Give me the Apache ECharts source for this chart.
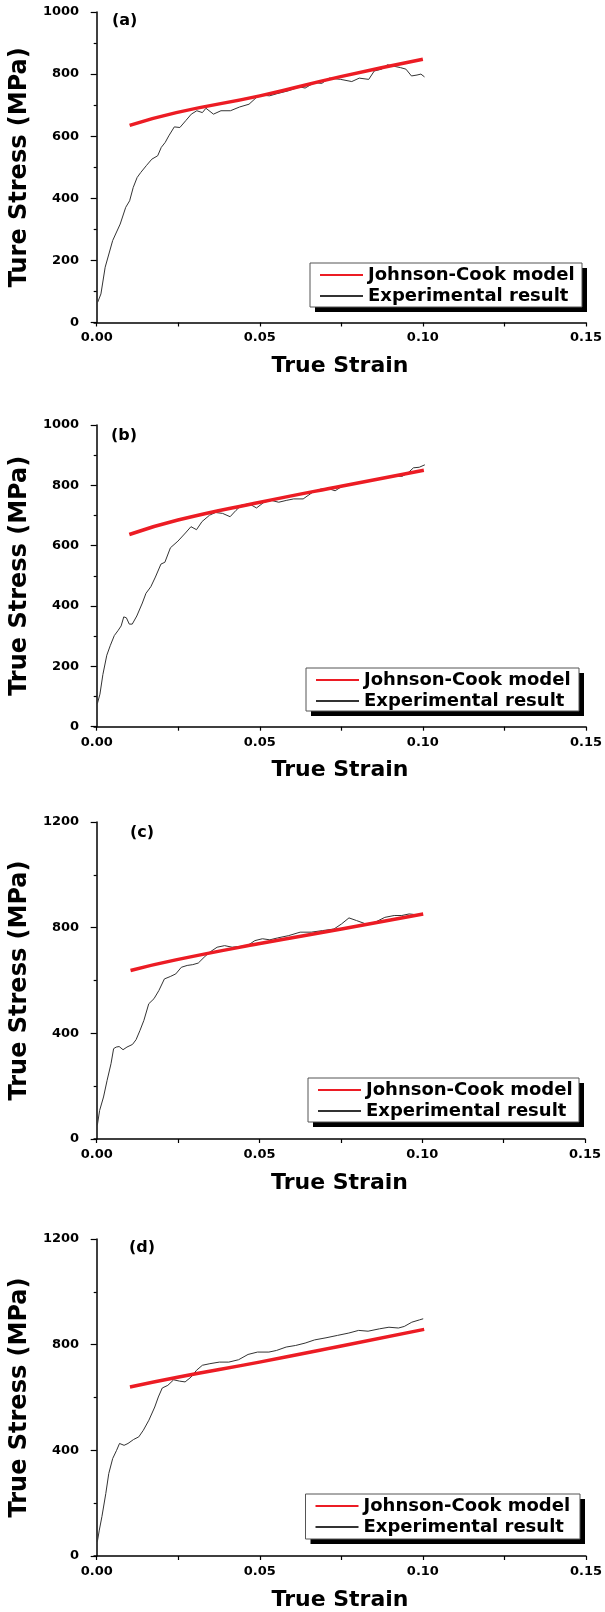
<!DOCTYPE html>
<html>
<head>
<meta charset="utf-8">
<script src="https://cdn.jsdelivr.net/npm/echarts@6/dist/echarts.min.js"></script>
<style>
html,body{margin:0;padding:0;background:#fff;}
#chart{width:605px;height:1612px;}
</style>
</head>
<body>
<div id="chart"></div>
<script>
// ---------- DATA ----------
const panelLabels = ['(a)', '(b)', '(c)', '(d)'];
const yNames = ['Ture Stress (MPa)', 'True Stress (MPa)', 'True Stress (MPa)', 'True Stress (MPa)'];
const xName = 'True Strain';
const seriesNames = ['Johnson-Cook model', 'Experimental result'];
const xTickValues = [0, 0.025, 0.05, 0.075, 0.1, 0.125, 0.15];
const xLabelValues = [0, 0.05, 0.1, 0.15];
const yMax = [1000, 1000, 1200, 1200];
const yInterval = [200, 200, 400, 400];

// Johnson-Cook model curves
const jcA_strain = [0.0101, 0.0244, 0.050, 0.0748, 0.100];
const jcA_stress = [635, 676, 730, 792, 848];
const jcB_strain = [0.0100, 0.0249, 0.0501, 0.0753, 0.1003];
const jcB_stress = [637, 685, 744, 798, 850];
const jcC_strain = [0.0104, 0.0243, 0.0497, 0.0752, 0.1003];
const jcC_stress = [638, 678, 739, 795, 852];
const jcD_strain = [0.0102, 0.0248, 0.0499, 0.0750, 0.1004];
const jcD_stress = [640, 677, 734, 795, 858];

// Experimental results
const expA_strain = [0.0003,0.0013,0.0026,0.0049,0.0072,0.0089,0.0101,0.0112,0.0124,0.0135,0.0152,0.0169,0.0187,0.0198,0.0210,0.0221,0.0238,0.0255,0.0273,0.0290,0.0307,0.0324,0.0335,0.0358,0.0381,0.0410,0.0438,0.0467,0.0490,0.0507,0.0530,0.0553,0.0587,0.0622,0.0639,0.0668,0.0690,0.0713,0.0748,0.0782,0.0805,0.0834,0.0851,0.0874,0.0891,0.0908,0.0931,0.0948,0.0965,0.0982,0.0994,0.1005];
const expA_stress = [65,92,178,264,317,371,392,435,467,483,505,526,537,564,580,601,630,628,650,671,682,676,690,671,682,682,694,703,725,732,730,737,746,759,755,773,770,787,783,776,787,783,810,816,830,826,821,816,794,797,800,791];

const expB_strain = [0.0002,0.0010,0.0019,0.0031,0.0042,0.0054,0.0065,0.0075,0.0083,0.0091,0.0100,0.0109,0.0123,0.0140,0.0151,0.0166,0.0180,0.0197,0.0209,0.0226,0.0249,0.0272,0.0289,0.0306,0.0323,0.0346,0.0364,0.0386,0.0409,0.0427,0.0444,0.0467,0.0490,0.0513,0.0536,0.0558,0.0581,0.0604,0.0633,0.0662,0.0685,0.0708,0.0731,0.0754,0.0788,0.0822,0.0857,0.0885,0.0914,0.0937,0.0954,0.0971,0.0989,0.1006];
const expB_stress = [76,108,173,237,270,302,318,334,364,361,340,340,367,410,442,464,496,539,545,593,615,642,663,653,680,701,710,707,696,717,734,739,725,744,750,744,750,755,755,777,787,790,782,798,807,811,818,825,830,830,841,858,860,868];

const expC_strain = [0.0002,0.0009,0.0021,0.0032,0.0044,0.0052,0.0060,0.0069,0.0081,0.0093,0.0110,0.0121,0.0133,0.0145,0.0160,0.0176,0.0191,0.0208,0.0226,0.0243,0.0260,0.0278,0.0295,0.0312,0.0330,0.0347,0.0370,0.0393,0.0416,0.0439,0.0463,0.0486,0.0509,0.0532,0.0555,0.0590,0.0625,0.0659,0.0694,0.0729,0.0752,0.0775,0.0798,0.0827,0.0856,0.0885,0.0914,0.0937,0.0960,0.0975];
const expC_stress = [52,108,159,222,285,342,348,350,338,348,358,376,411,449,512,531,562,606,615,625,650,657,660,666,688,707,726,732,726,729,732,751,758,754,761,770,783,783,789,795,814,837,827,814,821,839,846,846,852,850];

const expD_strain = [0.0002,0.0008,0.0016,0.0028,0.0037,0.0049,0.0061,0.0070,0.0084,0.0096,0.0113,0.0129,0.0143,0.0160,0.0178,0.0189,0.0201,0.0218,0.0236,0.0254,0.0271,0.0289,0.0306,0.0324,0.0347,0.0376,0.0405,0.0435,0.0464,0.0493,0.0528,0.0551,0.0581,0.0610,0.0639,0.0668,0.0703,0.0738,0.0773,0.0803,0.0832,0.0867,0.0896,0.0925,0.0943,0.0966,0.0990,0.1001];
const expD_stress = [54,98,149,237,312,369,400,426,419,426,441,451,476,514,564,602,636,646,667,662,659,677,703,722,728,734,734,743,763,772,772,778,791,797,806,818,826,835,844,854,851,860,866,863,869,885,894,898];

// ---------- LAYOUT ----------
const grids = [
  {left: 82, top: 12, width: 507, height: 310.5},
  {left: 79.5, top: 425, width: 506.5, height: 301.7},
  {left: 82.7, top: 822, width: 502.3, height: 317},
  {left: 89.3, top: 1239, width: 498, height: 317}
];
const legendBoxes = [
  {x: 310, y: 263, w: 272, h: 44},
  {x: 306, y: 668, w: 273, h: 43},
  {x: 308, y: 1078, w: 271, h: 44},
  {x: 305.5, y: 1494, w: 274.5, h: 45}
];
const labelPos = [
  {left: 112, top: 13},
  {left: 111, top: 428},
  {left: 130, top: 825},
  {left: 129, top: 1240}
];

const FONT = 'DejaVu Sans';
const RED = '#ec1c24';
const EXP = '#333333';

function zip(a, b) { return a.map((v, i) => [v, b[i]]); }
const jc = [zip(jcA_strain, jcA_stress), zip(jcB_strain, jcB_stress), zip(jcC_strain, jcC_stress), zip(jcD_strain, jcD_stress)];
const exp = [zip(expA_strain, expA_stress), zip(expB_strain, expB_stress), zip(expC_strain, expC_stress), zip(expD_strain, expD_stress)];

const graphics = [];
legendBoxes.forEach(b => {
  graphics.push({type: 'rect', z: 10, shape: {x: b.x + 5, y: b.y + 5, width: b.w, height: b.h},
    style: {fill: '#000'}});
  graphics.push({type: 'rect', z: 11, shape: {x: b.x, y: b.y, width: b.w, height: b.h},
    style: {fill: '#fff', stroke: '#555', lineWidth: 1}});
});

const option = {
  backgroundColor: '#fff',
  animation: false,
  graphic: graphics,
  title: panelLabels.map((t, i) => ({
    text: t, left: labelPos[i].left, top: labelPos[i].top, padding: 0,
    textStyle: {fontFamily: FONT, fontWeight: 'bold', fontSize: 16, color: '#000'}
  })),
  legend: legendBoxes.map(b => ({
    data: seriesNames,
    orient: 'vertical',
    left: b.x + 9, top: b.y + 2,
    padding: 0,
    itemGap: 1,
    itemWidth: 43, itemHeight: 14,
    z: 20,
    itemStyle: {opacity: 0, borderWidth: 0},
    textStyle: {fontFamily: FONT, fontWeight: 'bold', fontSize: 18, lineHeight: 20, color: '#000', padding: [0, 0, 0, 0]},
    selectedMode: false
  })),
  grid: grids.map(g => Object.assign({containLabel: false}, g)),
  xAxis: grids.map((g, i) => ({
    type: 'value', gridIndex: i, min: -0.0008, max: 0.15,
    name: xName, nameLocation: 'middle', nameGap: 33,
    nameTextStyle: {fontFamily: FONT, fontWeight: 'bold', fontSize: 22, color: '#000'},
    axisLine: {onZero: false, lineStyle: {color: '#000', width: 1.5}},
    axisTick: {show: true, inside: false, length: 4, customValues: xTickValues, lineStyle: {color: '#000', width: 1.2}},
    axisLabel: {customValues: xLabelValues, formatter: v => v.toFixed(2), margin: 9,
      fontFamily: FONT, fontWeight: 'bold', fontSize: 13, color: '#000'},
    splitLine: {show: false}
  })),
  yAxis: grids.map((g, i) => ({
    type: 'value', gridIndex: i, min: 0, max: yMax[i], interval: yInterval[i],
    name: yNames[i], nameLocation: 'middle', nameGap: 57, nameRotate: 90,
    nameTextStyle: {fontFamily: FONT, fontWeight: 'bold', fontSize: 24, color: '#000'},
    axisLine: {show: true, lineStyle: {color: '#000', width: 1.5}},
    axisTick: {show: true, inside: false, length: 6, lineStyle: {color: '#000', width: 1.2}},
    minorTick: {show: true, splitNumber: 2, length: 3, lineStyle: {color: '#000', width: 1.2}},
    axisLabel: {margin: 15, formatter: v => String(v), fontFamily: FONT, fontWeight: 'bold', fontSize: 13, color: '#000'},
    splitLine: {show: false}
  })),
  series: []
};

for (let i = 0; i < 4; i++) {
  option.series.push({
    name: seriesNames[0], type: 'line', xAxisIndex: i, yAxisIndex: i,
    data: jc[i], symbol: 'none', smooth: true, z: 3,
    lineStyle: {color: RED, width: 3.5}, itemStyle: {color: RED}
  });
  option.series.push({
    name: seriesNames[1], type: 'line', xAxisIndex: i, yAxisIndex: i,
    data: exp[i], symbol: 'none', z: 2,
    lineStyle: {color: EXP, width: 1}, itemStyle: {color: EXP}
  });
}

const chart = echarts.init(document.getElementById('chart'), null, {renderer: 'canvas'});
chart.setOption(option);
</script>
</body>
</html>
